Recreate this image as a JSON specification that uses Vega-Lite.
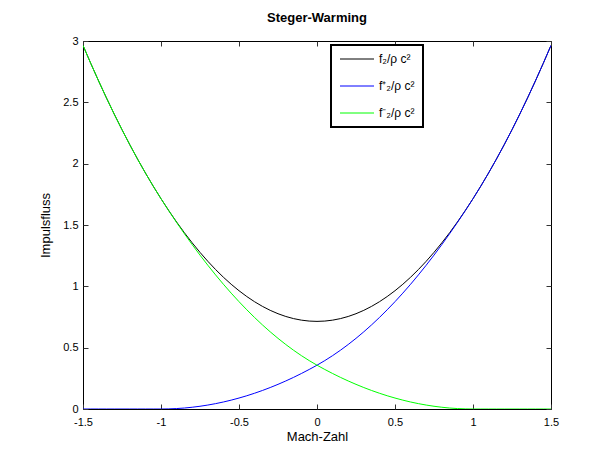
{
  "$schema": "https://vega.github.io/schema/vega-lite/v6.json",
  "autosize": {"type": "none"},
  "padding": {"left": 83, "top": 41, "right": 52, "bottom": 47},
  "width": 468,
  "height": 368,
  "background": "white",
  "config": {
    "font": "Liberation Sans",
    "view": {"stroke": "black", "strokeWidth": 1, "fill": "white"},
    "legend": {"strokeColor": "black", "strokeWidth": 2, "fillColor": "white", "padding": 8},
    "axis": {
      "domain": false,
      "grid": false,
      "ticks": true,
      "tickColor": "#333",
      "tickWidth": 1,
      "tickSize": 5,
      "offset": -5,
      "labelColor": "black",
      "labelFontSize": 11,
      "labelFlush": false,
      "labelFont": "Liberation Sans",
      "titleFont": "Liberation Sans",
      "titleFontSize": 13,
      "titleFontWeight": "normal",
      "titleColor": "black",
      "zindex": 1
    }
  },
  "title": {"text": "Steger-Warming", "fontSize": 13, "fontWeight": "bold", "font": "Liberation Sans", "color": "black", "offset": 10},
  "data": {"values": [
    {"M": -1.5, "f": 2.9643, "fp": 0, "fm": 2.9643},
    {"M": -1.45, "f": 2.8168, "fp": 0, "fm": 2.8168},
    {"M": -1.4, "f": 2.6743, "fp": 0, "fm": 2.6743},
    {"M": -1.35, "f": 2.5368, "fp": 0, "fm": 2.5368},
    {"M": -1.3, "f": 2.4043, "fp": 0, "fm": 2.4043},
    {"M": -1.25, "f": 2.2768, "fp": 0, "fm": 2.2768},
    {"M": -1.2, "f": 2.1543, "fp": 0, "fm": 2.1543},
    {"M": -1.15, "f": 2.0368, "fp": 0, "fm": 2.0368},
    {"M": -1.1, "f": 1.9243, "fp": 0, "fm": 1.9243},
    {"M": -1.05, "f": 1.8168, "fp": 0, "fm": 1.8168},
    {"M": -1.0, "f": 1.7143, "fp": 0, "fm": 1.7143},
    {"M": -0.95, "f": 1.6168, "fp": 0.0009, "fm": 1.6159},
    {"M": -0.9, "f": 1.5243, "fp": 0.0036, "fm": 1.5207},
    {"M": -0.85, "f": 1.4368, "fp": 0.0080, "fm": 1.4288},
    {"M": -0.8, "f": 1.3543, "fp": 0.0143, "fm": 1.3400},
    {"M": -0.75, "f": 1.2768, "fp": 0.0223, "fm": 1.2545},
    {"M": -0.7, "f": 1.2043, "fp": 0.0321, "fm": 1.1721},
    {"M": -0.65, "f": 1.1368, "fp": 0.0438, "fm": 1.0930},
    {"M": -0.6, "f": 1.0743, "fp": 0.0571, "fm": 1.0171},
    {"M": -0.55, "f": 1.0168, "fp": 0.0723, "fm": 0.9445},
    {"M": -0.5, "f": 0.9643, "fp": 0.0893, "fm": 0.8750},
    {"M": -0.45, "f": 0.9168, "fp": 0.1080, "fm": 0.8088},
    {"M": -0.4, "f": 0.8743, "fp": 0.1286, "fm": 0.7457},
    {"M": -0.35, "f": 0.8368, "fp": 0.1509, "fm": 0.6859},
    {"M": -0.3, "f": 0.8043, "fp": 0.1750, "fm": 0.6293},
    {"M": -0.25, "f": 0.7768, "fp": 0.2009, "fm": 0.5759},
    {"M": -0.2, "f": 0.7543, "fp": 0.2286, "fm": 0.5257},
    {"M": -0.15, "f": 0.7368, "fp": 0.2580, "fm": 0.4788},
    {"M": -0.1, "f": 0.7243, "fp": 0.2893, "fm": 0.4350},
    {"M": -0.05, "f": 0.7168, "fp": 0.3223, "fm": 0.3945},
    {"M": 0, "f": 0.7143, "fp": 0.3571, "fm": 0.3571},
    {"M": 0.05, "f": 0.7168, "fp": 0.3945, "fm": 0.3223},
    {"M": 0.1, "f": 0.7243, "fp": 0.4350, "fm": 0.2893},
    {"M": 0.15, "f": 0.7368, "fp": 0.4788, "fm": 0.2580},
    {"M": 0.2, "f": 0.7543, "fp": 0.5257, "fm": 0.2286},
    {"M": 0.25, "f": 0.7768, "fp": 0.5759, "fm": 0.2009},
    {"M": 0.3, "f": 0.8043, "fp": 0.6293, "fm": 0.1750},
    {"M": 0.35, "f": 0.8368, "fp": 0.6859, "fm": 0.1509},
    {"M": 0.4, "f": 0.8743, "fp": 0.7457, "fm": 0.1286},
    {"M": 0.45, "f": 0.9168, "fp": 0.8088, "fm": 0.1080},
    {"M": 0.5, "f": 0.9643, "fp": 0.8750, "fm": 0.0893},
    {"M": 0.55, "f": 1.0168, "fp": 0.9445, "fm": 0.0723},
    {"M": 0.6, "f": 1.0743, "fp": 1.0171, "fm": 0.0571},
    {"M": 0.65, "f": 1.1368, "fp": 1.0930, "fm": 0.0438},
    {"M": 0.7, "f": 1.2043, "fp": 1.1721, "fm": 0.0321},
    {"M": 0.75, "f": 1.2768, "fp": 1.2545, "fm": 0.0223},
    {"M": 0.8, "f": 1.3543, "fp": 1.3400, "fm": 0.0143},
    {"M": 0.85, "f": 1.4368, "fp": 1.4288, "fm": 0.0080},
    {"M": 0.9, "f": 1.5243, "fp": 1.5207, "fm": 0.0036},
    {"M": 0.95, "f": 1.6168, "fp": 1.6159, "fm": 0.0009},
    {"M": 1.0, "f": 1.7143, "fp": 1.7143, "fm": 0},
    {"M": 1.05, "f": 1.8168, "fp": 1.8168, "fm": 0},
    {"M": 1.1, "f": 1.9243, "fp": 1.9243, "fm": 0},
    {"M": 1.15, "f": 2.0368, "fp": 2.0368, "fm": 0},
    {"M": 1.2, "f": 2.1543, "fp": 2.1543, "fm": 0},
    {"M": 1.25, "f": 2.2768, "fp": 2.2768, "fm": 0},
    {"M": 1.3, "f": 2.4043, "fp": 2.4043, "fm": 0},
    {"M": 1.35, "f": 2.5368, "fp": 2.5368, "fm": 0},
    {"M": 1.4, "f": 2.6743, "fp": 2.6743, "fm": 0},
    {"M": 1.45, "f": 2.8168, "fp": 2.8168, "fm": 0},
    {"M": 1.5, "f": 2.9643, "fp": 2.9643, "fm": 0}
  ]},
  "resolve": {"axis": {"x": "independent", "y": "independent"}},
  "layer": [
    {
      "mark": {"type": "line", "strokeWidth": 1, "clip": true},
      "encoding": {
        "x": {"field": "M", "type": "quantitative",
          "scale": {"domain": [-1.5, 1.5], "nice": false, "zero": false},
          "axis": {"orient": "bottom", "title": "Mach-Zahl", "values": [-1.5, -1, -0.5, 0, 0.5, 1, 1.5], "labelExpr": "'' + datum.value", "labelPadding": 7, "titlePadding": 3}},
        "y": {"field": "f", "type": "quantitative",
          "scale": {"domain": [0, 3], "nice": false, "zero": false},
          "axis": {"orient": "left", "title": "Impulsfluss", "values": [0, 0.5, 1, 1.5, 2, 2.5, 3], "labelExpr": "'' + datum.value", "labelPadding": 5, "titlePadding": 10}},
        "color": {"datum": "f", "type": "nominal",
          "scale": {"domain": ["f", "fp", "fm"], "range": ["#000000", "#0000ff", "#00ff00"]},
          "legend": {
            "orient": "none", "legendX": 248, "legendY": 4, "title": null,
            "symbolType": "M-1,0H5.8", "symbolSize": 100, "symbolStrokeWidth": 1,
            "labelOffset": 28, "labelFontSize": 12, "labelFont": "Liberation Sans", "labelColor": "black",
            "rowPadding": 15,
            "labelExpr": "datum.label == 'f' ? 'f₂/ρ c²' : (datum.label == 'fp' ? 'f⁺₂/ρ c²' : 'f⁻₂/ρ c²')"
          }}
      }
    },
    {
      "mark": {"type": "line", "strokeWidth": 1, "clip": true},
      "encoding": {
        "x": {"field": "M", "type": "quantitative",
          "axis": {"orient": "top", "title": null, "values": [-1.5, -1, -0.5, 0, 0.5, 1, 1.5], "labels": false}},
        "y": {"field": "fp", "type": "quantitative",
          "axis": {"orient": "right", "title": null, "values": [0, 0.5, 1, 1.5, 2, 2.5, 3], "labels": false}},
        "color": {"datum": "fp", "type": "nominal"}
      }
    },
    {
      "mark": {"type": "line", "strokeWidth": 1, "clip": true},
      "encoding": {
        "x": {"field": "M", "type": "quantitative", "axis": null},
        "y": {"field": "fm", "type": "quantitative", "axis": null},
        "color": {"datum": "fm", "type": "nominal"}
      }
    }
  ]
}
